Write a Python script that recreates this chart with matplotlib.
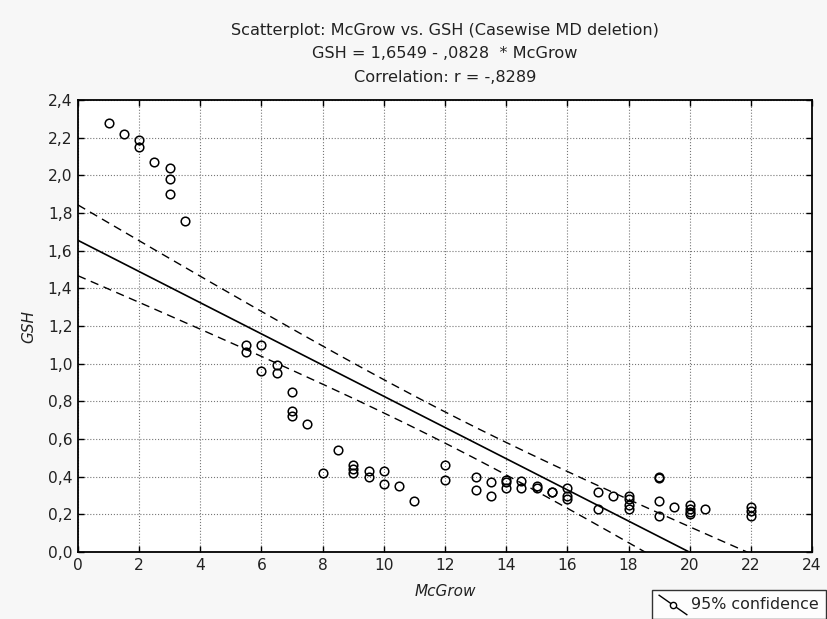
import numpy as np
import matplotlib.pyplot as plt
from matplotlib.lines import Line2D
from matplotlib.legend_handler import HandlerBase
from matplotlib.ticker import FuncFormatter

plt.rcParams['font.family'] = ['DejaVu Sans']

# data
mcgrow = [1, 1.5, 2, 2, 2.5, 3, 3, 3, 3.5,
          5.5, 5.5, 6, 6, 6.5, 6.5, 7, 7, 7, 7.5,
          8, 8.5, 9, 9, 9, 9.5, 9.5, 10, 10, 10.5, 11,
          12, 12, 13, 13, 13.5, 13.5,
          14, 14, 14, 14.5, 14.5, 15, 15, 15.5, 15.5,
          16, 16, 16, 17, 17, 17.5, 18, 18, 18, 18,
          19, 19, 19, 19, 19.5, 20, 20, 20, 20, 20.5,
          22, 22, 22]
gsh = [2.28, 2.22, 2.19, 2.15, 2.07, 2.04, 1.98, 1.90, 1.76,
       1.10, 1.06, 1.10, 0.96, 0.995, 0.95, 0.85, 0.75, 0.72, 0.68,
       0.42, 0.54, 0.46, 0.44, 0.42, 0.43, 0.40, 0.43, 0.36, 0.35, 0.27,
       0.46, 0.38, 0.40, 0.33, 0.37, 0.30,
       0.38, 0.37, 0.34, 0.375, 0.34, 0.35, 0.34, 0.32, 0.32,
       0.34, 0.30, 0.28, 0.32, 0.23, 0.30, 0.30, 0.28, 0.25, 0.23,
       0.40, 0.395, 0.27, 0.19, 0.24, 0.25, 0.23, 0.21, 0.20, 0.23,
       0.24, 0.22, 0.19]

b0 = 1.6549
b1 = -0.0828
r_val = -0.8289

x = np.array(mcgrow)
y = np.array(gsh)
n = len(x)

# regression line + 95% confidence band for the mean
xs = np.linspace(0, 24, 200)
fit = b0 + b1 * xs
resid = y - (b0 + b1 * x)
s = np.sqrt(np.sum(resid ** 2) / (n - 2))
sxx = np.sum((x - x.mean()) ** 2)
t = 1.99
half = t * s * np.sqrt(1.0 / n + (xs - x.mean()) ** 2 / sxx)


class DiagHandler(HandlerBase):
    # statistica style legend key: slanted line with a small circle on it
    def create_artists(self, legend, orig_handle, xdescent, ydescent, width, height, fontsize, trans):
        x0 = -xdescent
        y_top, y_bot = height + 2, -4
        ln = Line2D([x0, x0 + width], [y_top, y_bot], color='black', lw=1.0, transform=trans)
        mk = Line2D([x0 + width * 0.5], [(y_top + y_bot) / 2], marker='o', ms=4.5,
                    mfc='white', mec='black', mew=1.0, transform=trans)
        return [ln, mk]


fig = plt.figure(figsize=(8.27, 6.19), dpi=100, facecolor='#f7f7f7')
ax = fig.add_axes([0.0943, 0.1082, 0.8876, 0.7302])
ax.set_facecolor('white')

ax.plot(xs, fit, color='black', lw=1.2)
ax.plot(xs, fit + half, color='black', lw=1.0, ls=(0, (6, 4)))
ax.plot(xs, fit - half, color='black', lw=1.0, ls=(0, (6, 4)))
ax.plot(x, y, ls='none', marker='o', ms=6.2, mfc='none', mec='black', mew=1.1)

ax.set_xlim(0, 24)
ax.set_ylim(0, 2.4)
ax.set_xticks(np.arange(0, 25, 2))
ax.set_yticks(np.arange(0, 2.41, 0.2))
ax.yaxis.set_major_formatter(FuncFormatter(lambda v, p: ('%.1f' % v).replace('.', ',')))
ax.tick_params(direction='in', top=True, right=True, labelsize=11.2, length=4, width=1, pad=4,
               labelcolor='#222222')
ax.grid(True, color='#777777', ls=':', lw=0.8)
for sp in ax.spines.values():
    sp.set_linewidth(1.3)

ax.set_xlabel('McGrow', fontsize=11, style='italic', labelpad=8, color='#222222')
ax.set_ylabel('GSH', fontsize=11, style='italic', labelpad=8, color='#222222')

cx = 0.0943 + 0.8876 / 2
fig.text(cx, 1 - 31 / 619, 'Scatterplot: McGrow vs. GSH (Casewise MD deletion)', ha='center', va='center',
         fontsize=11.6, color='#222222')
fig.text(cx, 1 - 54 / 619, 'GSH = 1,6549 - ,0828  * McGrow', ha='center', va='center', fontsize=11.6,
         color='#222222')
fig.text(cx, 1 - 77 / 619, 'Correlation: r = -,8289', ha='center', va='center', fontsize=11.6,
         color='#222222')

h = Line2D([], [], color='black')
leg = fig.legend([h], ['95% confidence'], loc='upper left', bbox_to_anchor=(652 / 827, 1 - 590 / 619),
                 borderaxespad=0, frameon=True, fancybox=False, fontsize=11.4, handlelength=1.75,
                 borderpad=0.45, handletextpad=0.25, handler_map={Line2D: DiagHandler()})
leg.get_frame().set_edgecolor('black')
leg.get_frame().set_linewidth(1.0)
leg.get_frame().set_facecolor('white')
for tx in leg.get_texts():
    tx.set_color('#222222')

fig.savefig('out.png', dpi=100, facecolor=fig.get_facecolor())
